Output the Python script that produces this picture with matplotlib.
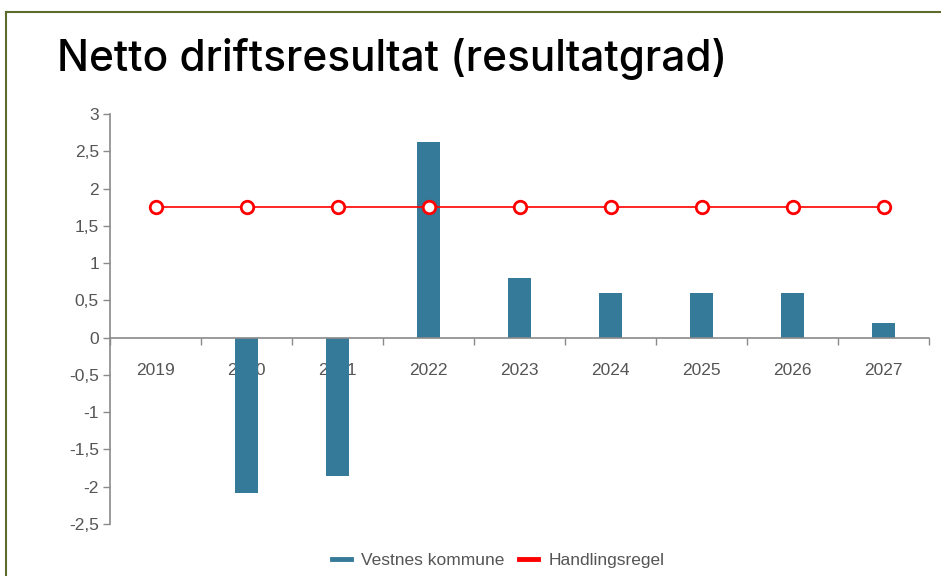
import matplotlib.pyplot as plt
from matplotlib.lines import Line2D
from matplotlib.ticker import FixedLocator, FuncFormatter

years = ["2019", "2020", "2021", "2022", "2023", "2024", "2025", "2026", "2027"]
vestnes = [0, -2.08, -1.86, 2.63, 0.8, 0.6, 0.6, 0.6, 0.2]
handlingsregel = [1.75, 1.75, 1.75, 1.75, 1.75, 1.75, 1.75, 1.75, 1.75]

plt.rcParams['font.family'] = ['Liberation Sans', 'DejaVu Sans']

bar_col = "#357a99"
txt_col = "#555555"
axis_col = "#8a8a8a"

fig = plt.figure(figsize=(9.41, 5.76), dpi=100)
W, H = 941, 576

# olive frame round the chart
fig.add_artist(Line2D([6 / W, 1], [1 - 12 / H, 1 - 12 / H], color="#5d6b2c", lw=1.5))
fig.add_artist(Line2D([6 / W, 6 / W], [0, 1 - 12 / H], color="#5d6b2c", lw=1.5))

fig.text(57 / W, 1 - 59 / H, "Netto driftsresultat (resultatgrad)", fontsize=30.5,
         family=["Inter", "DejaVu Sans"], weight=500, color="black", va="center", ha="left")

ax = fig.add_axes([110 / W, 1 - 524 / H, 819 / W, 410 / H])
x = list(range(len(years)))
ax.bar(x, vestnes, width=0.26, color=bar_col, linewidth=0, zorder=2)
ax.plot(x, handlingsregel, color="red", lw=1.2, marker="o", markersize=9,
        markerfacecolor="white", markeredgecolor="red", markeredgewidth=2, zorder=3)

ax.set_xlim(-0.5, len(years) - 0.5)
ax.set_ylim(-2.5, 3)
ax.set_yticks([3, 2.5, 2, 1.5, 1, 0.5, 0, -0.5, -1, -1.5, -2, -2.5])
ax.yaxis.set_major_formatter(FuncFormatter(lambda v, p: ("%g" % v).replace(".", ",")))

ax.spines['top'].set_visible(False)
ax.spines['right'].set_visible(False)
ax.spines['bottom'].set_position(('data', 0))
for s in ('left', 'bottom'):
    ax.spines[s].set_color(axis_col)
    ax.spines[s].set_linewidth(1.2)

ax.xaxis.set_major_locator(FixedLocator([i - 0.5 for i in range(len(years) + 1)]))
ax.xaxis.set_major_formatter(FuncFormatter(lambda v, p: ""))
ax.xaxis.set_minor_locator(FixedLocator(x))
ax.set_xticklabels(years, minor=True)
ax.tick_params(axis='x', which='major', direction='out', length=5, color=axis_col, width=1)
ax.tick_params(axis='x', which='minor', length=0, pad=18.5, labelsize=12.5, labelcolor=txt_col)
ax.tick_params(axis='y', direction='out', length=5, color=axis_col, width=1,
               labelsize=12.5, labelcolor=txt_col, pad=3)

handles = [Line2D([], [], color=bar_col, lw=3.5), Line2D([], [], color="red", lw=3.5)]
fig.legend(handles, ["Vestnes kommune", "Handlingsregel"], loc="center",
           bbox_to_anchor=(498 / W, 1 - 560 / H), ncol=2, frameon=False,
           fontsize=12.5, labelcolor=txt_col, handlelength=1.1, handletextpad=0.6,
           columnspacing=0.8)

fig.savefig("out.png", dpi=100)
